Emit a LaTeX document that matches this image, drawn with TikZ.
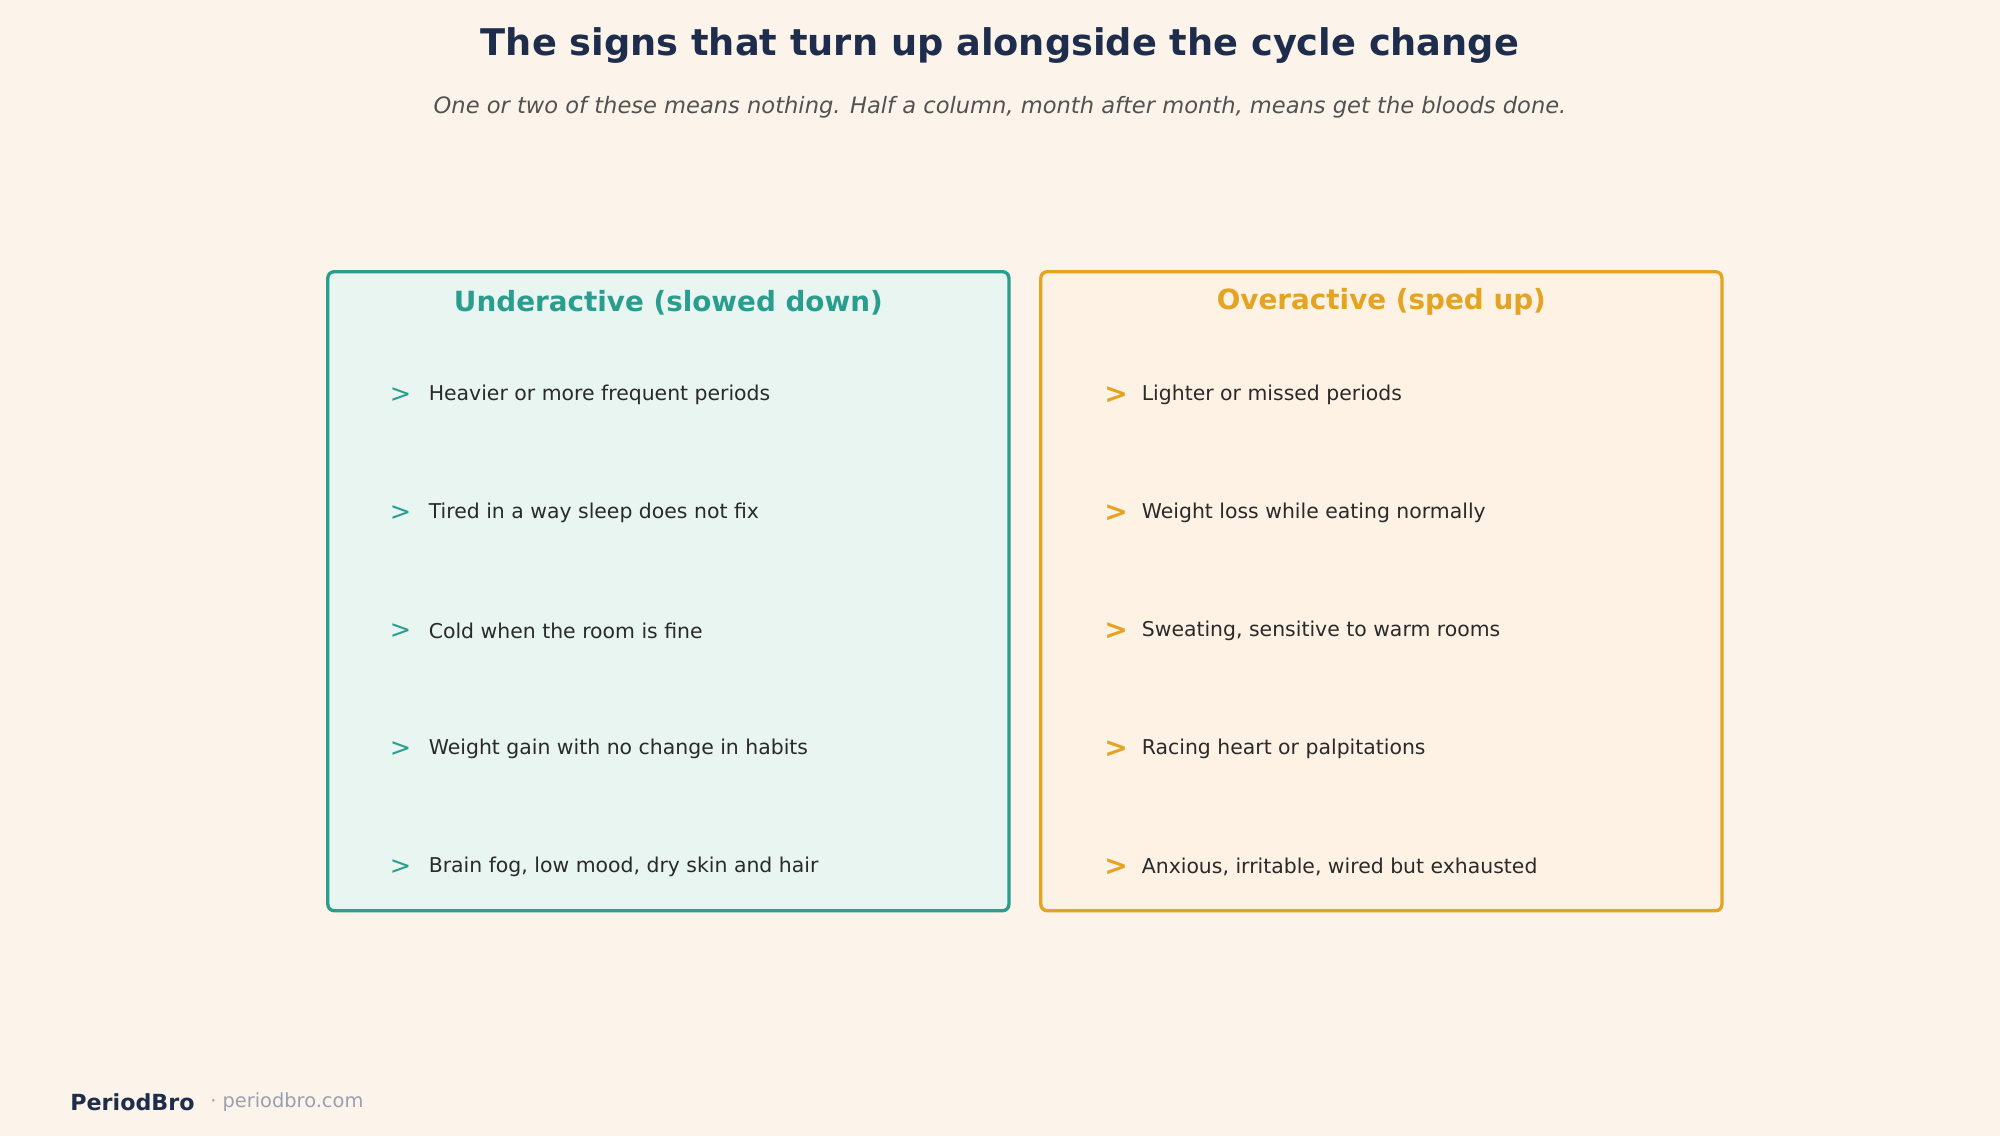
\documentclass[tikz,border=0pt]{standalone}
\usepackage{fontspec}
\setmainfont{DejaVu Sans}
\usetikzlibrary{positioning}
\definecolor{bgcol}{HTML}{FCF4EA}
\definecolor{navy}{HTML}{1F2D4D}
\definecolor{teal}{HTML}{2A9D8F}
\definecolor{tealbg}{HTML}{E8F5F0}
\definecolor{amber}{HTML}{E5A323}
\definecolor{amberbg}{HTML}{FDF2E4}
\definecolor{itemtxt}{HTML}{2A2A2A}
\tikzset{
  panel/.style={draw=#1, line width=2.6pt, rounded corners=5pt},
  head/.style={font=\fontsize{21.8}{26}\selectfont\bfseries, text=#1},
  chev/.style={font=\fontsize{22}{24}\selectfont\bfseries, text=#1, inner sep=0pt},
  item/.style={font=\fontsize{16}{19}\selectfont, text=itemtxt, anchor=west, inner sep=0pt}
}
\begin{document}
\begin{tikzpicture}[x=1pt,y=-1pt]
\fill[bgcol] (0,0) rectangle (1568,891);
\useasboundingbox (0,0) rectangle (1568,891);
% title
\node[font=\fontsize{28.8}{33}\selectfont\bfseries, text=navy] (title) at (784,36) {The signs that turn up alongside the cycle change};
\node[font=\fontsize{17.7}{21}\selectfont\itshape, text=black!68] (sub) at (784,84) {One or two of these means nothing. Half a column, month after month, means get the bloods done.};
% panels
\draw[panel=teal, fill=tealbg] (257,213) rectangle (791,714);
\draw[panel=amber, fill=amberbg] (816,213) rectangle (1350,714);
\node[head=teal] (lhead) at (524,237) {Underactive (slowed down)};
\node[head=amber] (rhead) at (1083,237) {Overactive (sped up)};
\foreach \t [count=\i] in {Heavier or more frequent periods, Tired in a way sleep does not fix, Cold when the room is fine, Weight gain with no change in habits, {Brain fog, low mood, dry skin and hair}}{
  \node[chev=teal, font=\fontsize{20}{24}\selectfont] (lc\i) at (314,217+92.5*\i) {>};
  \node[item] (lt\i) at (336,217+92.5*\i) {\t};
}
\foreach \t [count=\i] in {Lighter or missed periods, Weight loss while eating normally, {Sweating, sensitive to warm rooms}, Racing heart or palpitations, {Anxious, irritable, wired but exhausted}}{
  \node[chev=amber] (rc\i) at (875,217+92.5*\i) {>};
  \node[item] (rt\i) at (895,217+92.5*\i) {\t};
}
% footer
\node[font=\fontsize{17.4}{21}\selectfont\bfseries, text=navy, anchor=west, inner sep=0pt] (brand) at (55,864) {PeriodBro};
\node[font=\fontsize{15.2}{18}\selectfont, text=navy!45, anchor=west, inner sep=0pt, right=12pt of brand] (site) {· periodbro.com};
\end{tikzpicture}
\end{document}
